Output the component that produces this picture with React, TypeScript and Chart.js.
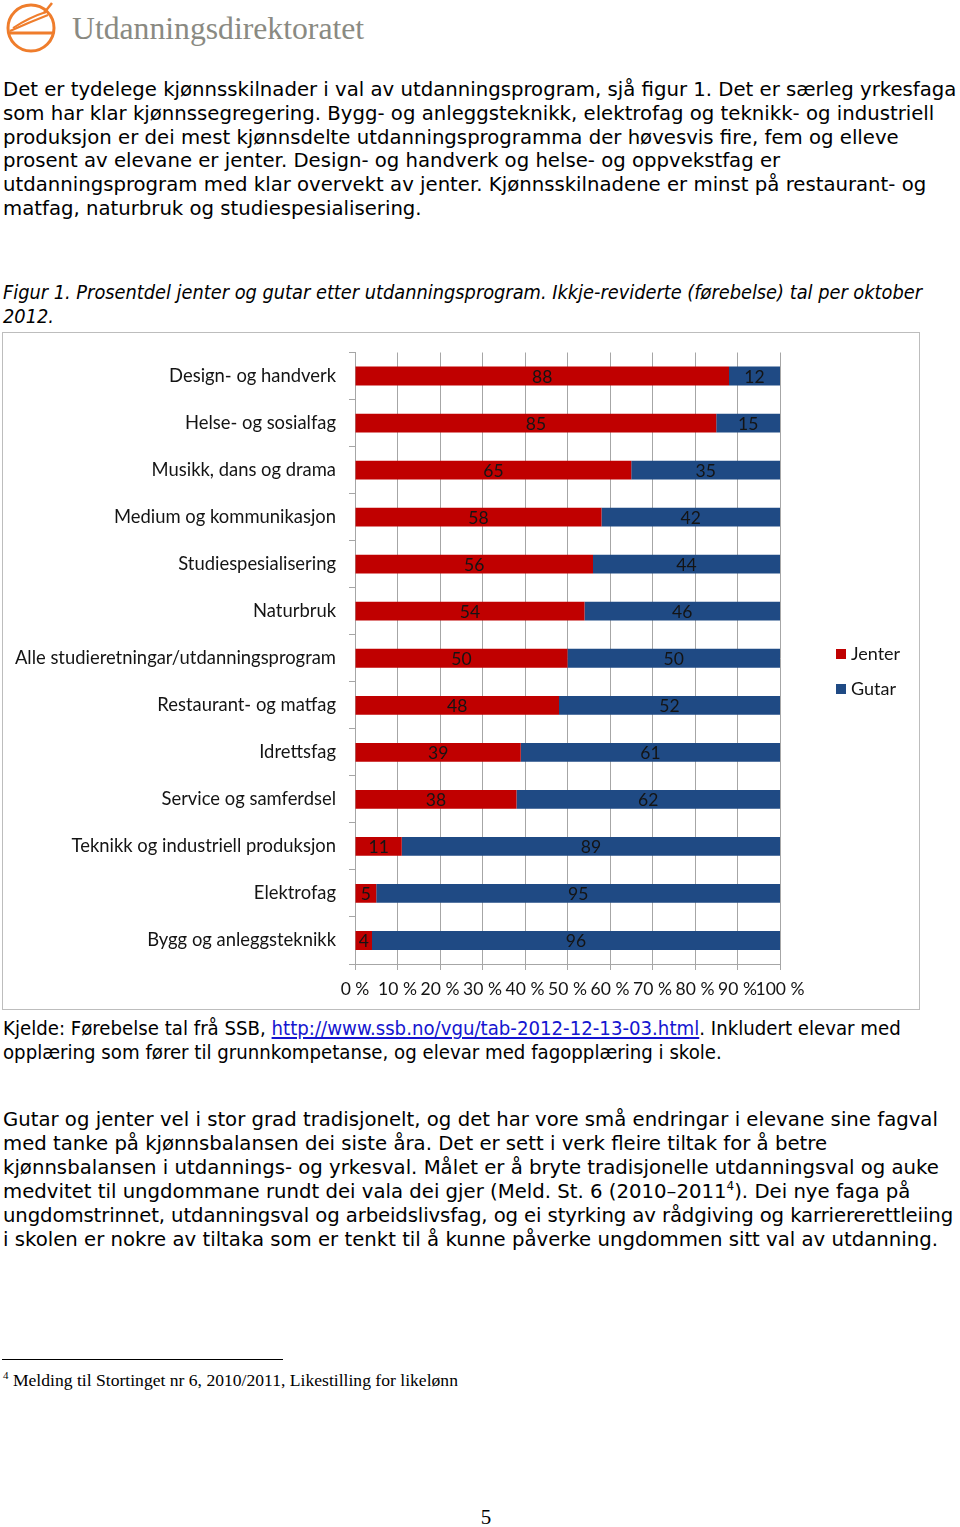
import React, { useEffect, useRef } from "react";
import { Chart, registerables } from "chart.js";

Chart.register(...registerables);

const categories = [
  "Design- og handverk",
  "Helse- og sosialfag",
  "Musikk, dans og drama",
  "Medium og kommunikasjon",
  "Studiespesialisering",
  "Naturbruk",
  "Alle studieretningar/utdanningsprogram",
  "Restaurant- og matfag",
  "Idrettsfag",
  "Service og samferdsel",
  "Teknikk og industriell produksjon",
  "Elektrofag",
  "Bygg og anleggsteknikk",
];
const jenter = [88, 85, 65, 58, 56, 54, 50, 48, 39, 38, 11, 5, 4];
const gutar = [12, 15, 35, 42, 44, 46, 50, 52, 61, 62, 89, 95, 96];
const xTicks = [0, 10, 20, 30, 40, 50, 60, 70, 80, 90, 100];
const seriesNames = ["Jenter", "Gutar"];
const seriesColors = ["#C00000", "#1F4A84"];

const para1 = [
  "Det er tydelege kjønnsskilnader i val av utdanningsprogram, sjå figur 1. Det er særleg yrkesfaga",
  "som har klar kjønnssegregering. Bygg- og anleggsteknikk, elektrofag og teknikk- og industriell",
  "produksjon er dei mest kjønnsdelte utdanningsprogramma der høvesvis fire, fem og elleve",
  "prosent av elevane er jenter. Design- og handverk og helse- og oppvekstfag er",
  "utdanningsprogram med klar overvekt av jenter. Kjønnsskilnadene er minst på restaurant- og",
  "matfag, naturbruk og studiespesialisering.",
];
const para2a = [
  "Gutar og jenter vel i stor grad tradisjonelt, og det har vore små endringar i elevane sine fagval",
  "med tanke på kjønnsbalansen dei siste åra. Det er sett i verk fleire tiltak for å betre",
  "kjønnsbalansen i utdannings- og yrkesval. Målet er å bryte tradisjonelle utdanningsval og auke",
];
const para2b = [
  "ungdomstrinnet, utdanningsval og arbeidslivsfag, og ei styrking av rådgiving og karriererettleiing",
  "i skolen er nokre av tiltaka som er tenkt til å kunne påverke ungdommen sitt val av utdanning.",
];

const bodyFont = "'DejaVu Sans', Verdana, sans-serif";
const condFont = "'DejaVu Sans Condensed', 'DejaVu Sans', sans-serif";
const serifFont = "'Liberation Serif', 'Times New Roman', serif";
const chartFont = "Lato, 'Open Sans', sans-serif";

const Line: React.FC<{ y: number; style?: React.CSSProperties; children: React.ReactNode }> = ({ y, style, children }) => (
  <div
    style={{
      position: "absolute",
      left: 3,
      top: y - 12,
      height: 24,
      lineHeight: "24px",
      whiteSpace: "nowrap",
      fontFamily: bodyFont,
      fontSize: 19.7,
      color: "#000",
      ...style,
    }}
  >
    {children}
  </div>
);

const labelsPlugin = {
  id: "segLabels",
  afterDatasetsDraw(chart: any) {
    const ctx = chart.ctx;
    ctx.save();
    ctx.font = `17.5px ${chartFont}`;
    ctx.fillStyle = "#141414";
    ctx.textAlign = "center";
    ctx.textBaseline = "middle";
    chart.data.datasets.forEach((ds: any, di: number) => {
      const meta = chart.getDatasetMeta(di);
      meta.data.forEach((el: any, i: number) => {
        const cx = (el.x + el.base) / 2;
        ctx.fillText(String(ds.data[i]), cx, el.y + 1);
      });
    });
    ctx.restore();
  },
};

const legendPlugin = {
  id: "sideLegend",
  afterDraw(chart: any) {
    const ctx = chart.ctx;
    const area = chart.chartArea;
    ctx.save();
    ctx.font = `18px ${chartFont}`;
    ctx.textBaseline = "middle";
    ctx.textAlign = "left";
    chart.data.datasets.forEach((ds: any, di: number) => {
      const y = area.top + 301.5 + di * 35;
      const x = area.right + 56;
      ctx.fillStyle = ds.backgroundColor;
      ctx.fillRect(x, y - 5, 10, 10);
      ctx.fillStyle = "#141414";
      ctx.fillText(ds.label, x + 15, y);
    });
    ctx.restore();
  },
};

const BarChart: React.FC = () => {
  const ref = useRef<HTMLCanvasElement | null>(null);
  useEffect(() => {
    if (!ref.current) return;
    const chart = new Chart(ref.current, {
      type: "bar",
      data: {
        labels: categories,
        datasets: [
          { label: seriesNames[0], data: jenter, backgroundColor: seriesColors[0], barPercentage: 0.4, categoryPercentage: 1 },
          { label: seriesNames[1], data: gutar, backgroundColor: seriesColors[1], barPercentage: 0.4, categoryPercentage: 1 },
        ],
      },
      options: {
        indexAxis: "y",
        animation: false,
        responsive: false,
        maintainAspectRatio: false,
        layout: { padding: { top: 19.5, right: 139, bottom: 0, left: 0 } },
        plugins: { legend: { display: false }, tooltip: { enabled: false } },
        scales: {
          x: {
            stacked: true,
            min: 0,
            max: 100,
            afterBuildTicks: (scale: any) => {
              scale.ticks = xTicks.map((v) => ({ value: v }));
            },
            ticks: {
              callback: (v: any) => `${v} %`,
              font: { family: chartFont, size: 17.5 },
              color: "#141414",
              padding: 9,
              maxRotation: 0,
              autoSkip: false,
            },
            grid: { color: "#a6a6a6", lineWidth: 1, tickLength: 6 },
            border: { color: "#a6a6a6" },
          },
          y: {
            stacked: true,
            afterFit: (scale: any) => {
              scale.width = 352;
            },
            ticks: {
              font: { family: chartFont, size: 18.4, lineHeight: 0.6 },
              color: "#141414",
              padding: 13,
              autoSkip: false,
            },
            grid: { drawOnChartArea: false, offset: true, tickLength: 6, color: "#a6a6a6" },
            border: { color: "#a6a6a6" },
          },
        },
      },
      plugins: [labelsPlugin, legendPlugin],
    } as any);
    return () => chart.destroy();
  }, []);
  return <canvas ref={ref} width={916} height={676} style={{ display: "block", width: 916, height: 676 }} />;
};

const Logo: React.FC = () => (
  <div style={{ position: "absolute", left: 0, top: 0, width: 380, height: 56 }}>
    <svg width={60} height={56} style={{ position: "absolute", left: 0, top: 0 }}>
      <g fill="none" stroke="#EF7D2C" strokeWidth={3}>
        <circle cx={31} cy={28} r={23} />
        <line x1={8} y1={33} x2={54} y2={33} />
        <path d="M10 31 Q30 22 48 15" strokeWidth={2} />
        <path d="M13 28 Q30 17 46 12" strokeWidth={2} />
        <path d="M44 13 L52 3" strokeWidth={2.5} />
      </g>
    </svg>
    <div
      style={{
        position: "absolute",
        left: 72,
        top: 11,
        fontFamily: serifFont,
        fontSize: 31.7,
        lineHeight: "36px",
        color: "#8a8a82",
        whiteSpace: "nowrap",
      }}
    >
      Utdanningsdirektoratet
    </div>
  </div>
);

export default function App() {
  return (
    <div style={{ position: "absolute", left: 0, top: 0, width: 960, height: 1527, background: "#fff", overflow: "hidden" }}>
      <Logo />
      {para1.map((t, i) => (
        <Line key={"p1" + i} y={90 + i * 23.8}>
          {t}
        </Line>
      ))}
      <Line y={293} style={{ fontFamily: condFont, fontStyle: "italic", fontSize: 19.8 }}>
        Figur 1. Prosentdel jenter og gutar etter utdanningsprogram. Ikkje-reviderte (førebelse) tal per oktober
      </Line>
      <Line y={317} style={{ fontFamily: condFont, fontStyle: "italic", fontSize: 19.8 }}>
        2012.
      </Line>
      <div
        style={{
          position: "absolute",
          left: 2,
          top: 332,
          width: 918,
          height: 678,
          border: "1px solid #bdbdbd",
          boxSizing: "border-box",
        }}
      >
        <div style={{ position: "absolute", left: 0, top: 0 }}>
          <BarChart />
        </div>
      </div>
      <Line y={1028} style={{ fontFamily: condFont, fontSize: 20.2 }}>
        Kjelde: Førebelse tal frå SSB,{" "}
        <span style={{ color: "#1515d0", textDecoration: "underline" }}>http://www.ssb.no/vgu/tab-2012-12-13-03.html</span>. Inkludert
        elevar med
      </Line>
      <Line y={1052} style={{ fontFamily: condFont, fontSize: 20.2 }}>
        opplæring som fører til grunnkompetanse, og elevar med fagopplæring i skole.
      </Line>
      {para2a.map((t, i) => (
        <Line key={"p2a" + i} y={1120 + i * 24}>
          {t}
        </Line>
      ))}
      <Line y={1192}>
        medvitet til ungdommane rundt dei vala dei gjer (Meld. St. 6 (2010–2011
        <sup style={{ fontSize: 12, lineHeight: 0 }}>4</sup>). Dei nye faga på
      </Line>
      {para2b.map((t, i) => (
        <Line key={"p2b" + i} y={1216 + i * 24} style={i === 0 ? { letterSpacing: -0.12 } : undefined}>
          {t}
        </Line>
      ))}
      <div style={{ position: "absolute", left: 2, top: 1359, width: 281, height: 1, background: "#000" }} />
      <div
        style={{
          position: "absolute",
          left: 3,
          top: 1369,
          fontFamily: serifFont,
          fontSize: 17.6,
          lineHeight: "22px",
          whiteSpace: "nowrap",
          color: "#000",
        }}
      >
        <sup style={{ fontSize: 11, lineHeight: 0 }}>4</sup> Melding til Stortinget nr 6, 2010/2011, Likestilling for likelønn
      </div>
      <div
        style={{
          position: "absolute",
          left: 476,
          top: 1504,
          width: 20,
          textAlign: "center",
          fontFamily: serifFont,
          fontSize: 21,
          lineHeight: "26px",
          color: "#000",
        }}
      >
        5
      </div>
    </div>
  );
}
